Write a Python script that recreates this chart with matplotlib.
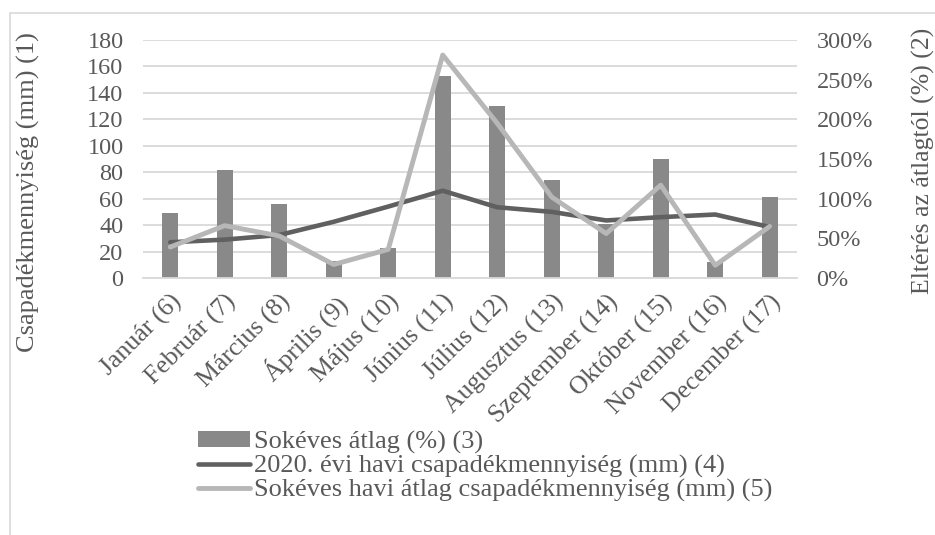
import numpy as np
import matplotlib
matplotlib.use('Agg')
import matplotlib.pyplot as plt
from matplotlib.patches import Rectangle
from matplotlib.ticker import FuncFormatter

plt.rcParams['font.family'] = ['Liberation Serif', 'DejaVu Serif']
szin = '#595959'  # szövegszín

# havi adatok
honapok = ['Január (6)', 'Február (7)', 'Március (8)', 'Április (9)', 'Május (10)',
           'Június (11)', 'Július (12)', 'Augusztus (13)', 'Szeptember (14)',
           'Október (15)', 'November (16)', 'December (17)']
sokeves_atlag = [49, 82, 56, 13, 23, 153, 130, 74, 41, 90, 12, 61]
csapadek_2020 = [27, 29, 32.5, 42.5, 54, 66, 53.5, 50, 43.5, 46, 48, 38.5]
elteres_szazalek = [39, 66, 53, 17, 36, 281, 195, 102, 56, 117, 16, 65]

bal_tickek = [0, 20, 40, 60, 80, 100, 120, 140, 160, 180]
jobb_tickek = [0, 50, 100, 150, 200, 250, 300]

fig = plt.figure(figsize=(9.35, 5.35), dpi=100)
ax = fig.add_axes([0.1529, 0.4804, 0.6995, 0.4449])
ax2 = ax.twinx()

# keret a diagram körül
fig.patches.append(Rectangle((10 / 935, -0.1), 1.1, 1.1 - 13 / 535, transform=fig.transFigure,
                             fill=False, edgecolor='#d9d9d9', linewidth=1.2))

x = np.arange(len(honapok))
b = ax.bar(x, sokeves_atlag, width=0.3, color='#898989', zorder=2,
           label='Sokéves átlag (%) (3)')
l1, = ax.plot(x, csapadek_2020, color='#606060', linewidth=3.3, zorder=3,
              solid_capstyle='round', label='2020. évi havi csapadékmennyiség (mm) (4)')
l2, = ax2.plot(x, elteres_szazalek, color='#b7b7b7', linewidth=3.5, zorder=3,
               solid_capstyle='round', label='Sokéves havi átlag csapadékmennyiség (mm) (5)')

ax.set_xlim(-0.5, len(honapok) - 0.5)
ax.set_ylim(0, 180)
ax2.set_ylim(0, 300)
ax.set_yticks(bal_tickek)
ax2.set_yticks(jobb_tickek)
ax2.yaxis.set_major_formatter(FuncFormatter(lambda v, p: '%d%%' % v))

ax.set_axisbelow(True)
ax.yaxis.grid(True, color='#d9d9d9', linewidth=1.3)
for a in (ax, ax2):
    for s in a.spines.values():
        s.set_visible(False)
ax.spines['bottom'].set_visible(True)
ax.spines['bottom'].set_color('#d9d9d9')
ax.spines['bottom'].set_linewidth(1.3)

ax.set_xticks(x)
ax.set_xticklabels(honapok, rotation=45, ha='right', rotation_mode='anchor')
ax.tick_params(axis='x', length=0, pad=9, labelsize=18.5, labelcolor=szin)
ax.tick_params(axis='y', length=0, pad=14, labelsize=17.5, labelcolor=szin)
ax2.tick_params(axis='y', length=0, pad=14, labelsize=17.5, labelcolor=szin)

ax.set_ylabel('Csapadékmennyiség (mm) (1)', fontsize=19, color=szin)
ax.yaxis.set_label_coords(-0.157, 0.36)
ax2.set_ylabel('Eltérés az átlagtól (%) (2)', fontsize=18.5, color=szin)
ax2.yaxis.set_label_coords(1.176, 0.49)

fig.legend([b, l1, l2], [b.get_label(), l1.get_label(), l2.get_label()],
           loc='upper left', bbox_to_anchor=(180 / 935, 1 - 412 / 535),
           frameon=False, fontsize=19, labelcolor=szin, handlelength=1.95,
           handleheight=0.55, handletextpad=0.15, labelspacing=0.05, borderpad=0.2)

plt.savefig('out.png', dpi=100)
